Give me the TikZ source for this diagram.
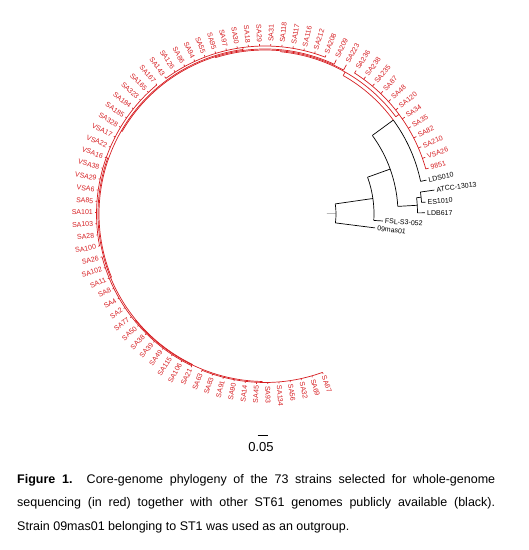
\documentclass[tikz,border=0pt]{standalone}
\usepackage{fontspec}
\setmainfont{Liberation Sans}
\definecolor{strainred}{RGB}{214,30,34}
\tikzset{
    branch/.style={line width=0.7pt},
    redbranch/.style={line width=0.7pt, strainred},
    tiplabel/.style={font=\fontsize{7}{8}\selectfont, inner sep=0pt},
}

\begin{document}
\begin{tikzpicture}[x=1pt, y=1pt]
    \useasboundingbox (0,0) rectangle (529,550);
    \def\angStart{-7.2}
    \def\angStep{3.81}
    \def\tipR{170}
    \def\labR{172}

    \begin{scope}[shift={(265,336)}]
    % root and the black part of the tree
    \coordinate (rootStub) at (0.49:62);
    \coordinate (nA) at (0.49:71);
    \draw[branch, gray!55] (rootStub) -- (nA);
    \draw[branch] (-7.2:71) arc[start angle=-7.2, end angle=8.175, radius=71];
    \draw[branch] (-7.2:71) -- (-7.2:111);
    \draw[branch] (8.175:71) -- (8.175:109);
    \draw[branch] (-3.39:109) arc[start angle=-3.39, end angle=19.74, radius=109];
    \draw[branch] (-3.39:109) -- (-3.39:118);
    \draw[branch] (19.74:109) -- (19.74:133);
    \draw[branch] (3.28:133) arc[start angle=3.28, end angle=36.2, radius=133];
    \draw[branch] (3.28:133) -- (3.28:152.5);
    \draw[branch] (0.42:152.5) arc[start angle=0.42, end angle=6.135, radius=152.5];
    \draw[branch] (0.42:152.5) -- (0.42:160);
    \draw[branch] (6.135:152.5) -- (6.135:157);
    \draw[branch] (4.23:157) arc[start angle=4.23, end angle=8.04, radius=157];
    \draw[branch] (4.23:157) -- (4.23:161);
    \draw[branch] (8.04:157) -- (8.04:171);
    \draw[branch] (36.2:133) -- (36.2:159);
    \draw[branch] (11.85:159) arc[start angle=11.85, end angle=36.2, radius=159];
    \draw[branch] (11.85:159) -- (11.85:165);

    \node[tiplabel, anchor=west, rotate=-7.2] (t09mas01) at (-7.2:113) {09mas01};
    \node[tiplabel, anchor=west, rotate=-3.39] (tFSL) at (-3.39:120) {FSL-S3-052};
    \node[tiplabel, anchor=west, rotate=0.42] (tLDB617) at (0.42:162) {LDB617};
    \node[tiplabel, anchor=west, rotate=4.23] (tES1010) at (4.23:163) {ES1010};
    \node[tiplabel, anchor=west, rotate=8.04] (tATCC) at (8.04:173) {ATCC-13013};
    \node[tiplabel, anchor=west, rotate=11.85] (tLDS010) at (11.85:167) {LDS010};

    % red clade
    \draw[redbranch] (36.2:159) arc[start angle=36.2, end angle=60.55, radius=159];
    \draw[redbranch] (60.55:159) -- (60.55:163);
    \foreach \a/\b/\r in {36.615/84.48/163, 61.38/107.58/164, 65.19/149.96/165,
                          97.575/202.35/166, 160.44/244.27/167, 219.495/269.035/167.5}
        \draw[redbranch] (\a:\r) arc[start angle=\a, end angle=\b, radius=\r];
    \foreach \a/\r/\s in {84.48/163/164, 107.58/164/165, 149.96/165/166, 202.35/166/167,
                          244.27/167/167.5, 36.615/163/167, 97.575/166/168,
                          160.44/167/168.5, 219.495/167.5/168.5, 269.035/167.5/168.5,
                          61.38/164/\tipR, 65.19/165/\tipR}
        \draw[redbranch] (\a:\r) -- (\a:\s);
    \foreach \first/\last/\gr in {6/17/167, 20/35/168, 36/52/168.5, 53/66/168.5, 67/78/168.5} {
        \pgfmathsetmacro\gA{\angStart+\angStep*\first}
        \pgfmathsetmacro\gB{\angStart+\angStep*\last}
        \draw[redbranch] (\gA:\gr) arc[start angle=\gA, end angle=\gB, radius=\gr];
        \foreach \k in {\first,...,\last} {
            \pgfmathsetmacro\kAng{\angStart+\angStep*\k}
            \draw[redbranch] (\kAng:\gr) -- (\kAng:\tipR);
        }
    }

    \foreach \name [count=\i from 6] in {9851,VSA26,SA210,SA82,SA35,SA34,SA120,SA48,SA87,
        SA235,SA238,SA236,SA223,SA209,SA208,SA212,SA116,SA117,SA118,SA31,SA29,SA18,SA30,
        SA97,SA95,SA55,SA94,SA86,SA126,SA143,SA167,SA165,SA323,SA184,SA185,SA328,VSA17,
        VSA22,VSA16,VSA38,VSA29,VSA6,SA85,SA101,SA103,SA28,SA100,SA26,SA102,SA11,SA8,SA4,
        SA2,SA77,SA50,SA38,SA39,SA49,SA115,SA106,SA21,SA63,SA83,SA91,SA90,SA14,SA45,SA93,
        SA134,SA56,SA32,SA69,SA67} {
        \pgfmathsetmacro\ang{\angStart+\angStep*\i}
        \pgfmathtruncatemacro\flip{and(\ang>90,\ang<270)}
        \ifnum\flip=1
            \node[tiplabel, strainred, anchor=east, rotate=\ang-180] (leaf\i) at (\ang:\labR) {\name};
        \else
            \node[tiplabel, strainred, anchor=west, rotate=\ang] (leaf\i) at (\ang:\labR) {\name};
        \fi
    }
    \end{scope}

    % scale bar and caption
    \coordinate (barL) at (257.5,115);
    \coordinate (barR) at (267.5,115);
    \draw[line width=0.7pt] (barL) -- (barR);
    \node[font=\fontsize{13}{15}\selectfont, anchor=base] (scaleLabel) at (261,98) {0.05};
    \node[anchor=north west, inner sep=0pt, text width=478pt, align=justify,
          font=\fontsize{12.5}{23.5}\selectfont] (caption) at (17,76)
        {\noindent\hyphenpenalty=10000 \textbf{Figure 1.} Core-genome phylogeny of the 73 strains
         selected for whole-genome \linebreak sequencing (in red) together with other ST61
         genomes publicly available (black). \linebreak Strain 09mas01 belonging to ST1 was
         used as an outgroup.};
\end{tikzpicture}
\end{document}
